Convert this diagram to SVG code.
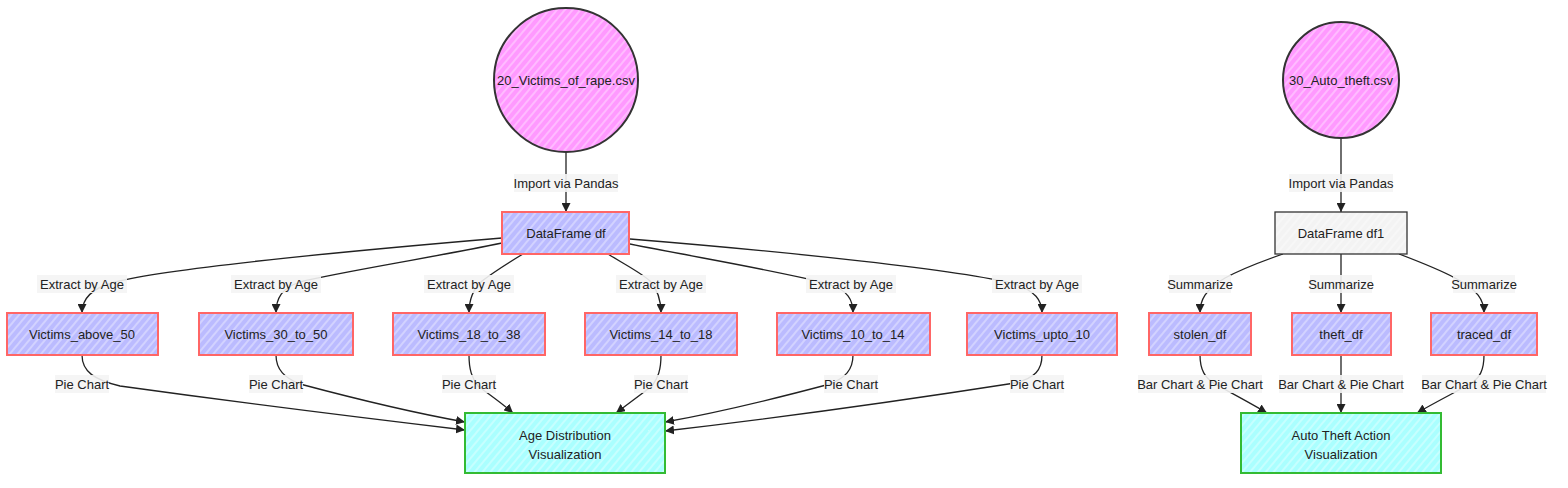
<svg xmlns="http://www.w3.org/2000/svg" width="1568" height="488" viewBox="0 0 1568 488">
<style>
text{font-family:"Liberation Sans","DejaVu Sans",sans-serif;font-size:13px;fill:#222;text-anchor:middle;dominant-baseline:central}
.edge{fill:none;stroke:#222;stroke-width:1.3}
.lbl{fill:#f4f4f4;opacity:0.9}
.df{stroke:#f66;stroke-width:2}
.src{stroke:#333;stroke-width:2}
.viz{stroke:#3b3;stroke-width:2}
.plain{stroke:#333;stroke-width:1.3}
</style>
<defs>
<pattern id="hPurple" width="6" height="6" patternUnits="userSpaceOnUse" patternTransform="rotate(40)"><rect width="6" height="6" fill="#bbf"/><line x1="1" y1="0" x2="1" y2="6" stroke="#fff" stroke-width="0.9" stroke-opacity="0.75"/></pattern>
<pattern id="hPink" width="6" height="6" patternUnits="userSpaceOnUse" patternTransform="rotate(40)"><rect width="6" height="6" fill="#f9f"/><line x1="1" y1="0" x2="1" y2="6" stroke="#fff" stroke-width="0.9" stroke-opacity="0.75"/></pattern>
<pattern id="hCyan" width="6" height="6" patternUnits="userSpaceOnUse" patternTransform="rotate(40)"><rect width="6" height="6" fill="#aff"/><line x1="1" y1="0" x2="1" y2="6" stroke="#fff" stroke-width="0.9" stroke-opacity="0.75"/></pattern>
<pattern id="hGray" width="6" height="6" patternUnits="userSpaceOnUse" patternTransform="rotate(40)"><rect width="6" height="6" fill="#f3f3f3"/><line x1="1" y1="0" x2="1" y2="6" stroke="#fff" stroke-width="0.9" stroke-opacity="0.75"/></pattern>
<marker id="arr" markerUnits="userSpaceOnUse" markerWidth="9" markerHeight="9" refX="9" refY="4.5" orient="auto"><path d="M0,0 L9,4.5 L0,9 z" fill="#222"/></marker>
</defs>
<rect width="1568" height="488" fill="#fff"/>

<g id="connectors">
<path class="edge" d="M566,153 L566,212" marker-end="url(#arr)"/>
<path class="edge" d="M502,238 C360,250 170,268 115,282 C92,288 82,298 82,313" marker-end="url(#arr)"/>
<path class="edge" d="M502,243 C430,258 340,272 300,282 C282,288 276,298 276,313" marker-end="url(#arr)"/>
<path class="edge" d="M523,254 C508,263 494,272 482,281 C472,290 469,300 469,313" marker-end="url(#arr)"/>
<path class="edge" d="M608,254 C622,263 640,272 650,281 C658,290 661,300 661,313" marker-end="url(#arr)"/>
<path class="edge" d="M630,244 C700,258 790,273 828,284 C848,290 853,300 853,313" marker-end="url(#arr)"/>
<path class="edge" d="M630,239 C790,252 960,270 1015,284 C1035,291 1042,300 1042,313" marker-end="url(#arr)"/>
<path class="edge" d="M82,355 C82,372 95,380 120,386 C250,404 380,420 465,430" marker-end="url(#arr)"/>
<path class="edge" d="M276,355 C276,370 285,378 300,384 C360,400 420,414 465,422" marker-end="url(#arr)"/>
<path class="edge" d="M469,355 C469,370 472,378 478,386 C490,395 503,404 513,413" marker-end="url(#arr)"/>
<path class="edge" d="M661,355 C661,370 658,378 652,386 C640,395 628,404 616,413" marker-end="url(#arr)"/>
<path class="edge" d="M853,355 C853,370 845,378 830,384 C770,400 710,414 665,422" marker-end="url(#arr)"/>
<path class="edge" d="M1042,355 C1042,370 1035,378 1015,383 C880,404 760,420 665,431" marker-end="url(#arr)"/>
<path class="edge" d="M1341,139 L1341,212" marker-end="url(#arr)"/>
<path class="edge" d="M1283,254 C1260,262 1240,270 1225,278 C1205,290 1200,300 1200,313" marker-end="url(#arr)"/>
<path class="edge" d="M1341,254 L1341,313" marker-end="url(#arr)"/>
<path class="edge" d="M1399,254 C1420,262 1440,270 1455,278 C1478,290 1484,300 1484,313" marker-end="url(#arr)"/>
<path class="edge" d="M1200,355 C1200,370 1205,378 1215,384 C1235,395 1252,404 1267,413" marker-end="url(#arr)"/>
<path class="edge" d="M1341,355 L1341,413" marker-end="url(#arr)"/>
<path class="edge" d="M1484,355 C1484,370 1480,378 1470,384 C1450,395 1432,404 1417,413" marker-end="url(#arr)"/>
</g>

<g id="edge-labels">
<rect class="lbl" x="514" y="174" width="104" height="18"/><text x="566" y="183">Import via Pandas</text>
<rect class="lbl" x="1289" y="174" width="104" height="18"/><text x="1341" y="183">Import via Pandas</text>
<rect class="lbl" x="37" y="275" width="90" height="18"/><text x="82" y="284">Extract by Age</text>
<rect class="lbl" x="231" y="275" width="90" height="18"/><text x="276" y="284">Extract by Age</text>
<rect class="lbl" x="424" y="275" width="90" height="18"/><text x="469" y="284">Extract by Age</text>
<rect class="lbl" x="616" y="275" width="90" height="18"/><text x="661" y="284">Extract by Age</text>
<rect class="lbl" x="806" y="275" width="90" height="18"/><text x="851" y="284">Extract by Age</text>
<rect class="lbl" x="992" y="275" width="90" height="18"/><text x="1037" y="284">Extract by Age</text>
<rect class="lbl" x="1169" y="275" width="62" height="18"/><text x="1200" y="284">Summarize</text>
<rect class="lbl" x="1310" y="275" width="62" height="18"/><text x="1341" y="284">Summarize</text>
<rect class="lbl" x="1453" y="275" width="62" height="18"/><text x="1484" y="284">Summarize</text>
<rect class="lbl" x="55" y="375" width="54" height="18"/><text x="82" y="384">Pie Chart</text>
<rect class="lbl" x="249" y="375" width="54" height="18"/><text x="276" y="384">Pie Chart</text>
<rect class="lbl" x="442" y="375" width="54" height="18"/><text x="469" y="384">Pie Chart</text>
<rect class="lbl" x="634" y="375" width="54" height="18"/><text x="661" y="384">Pie Chart</text>
<rect class="lbl" x="824" y="375" width="54" height="18"/><text x="851" y="384">Pie Chart</text>
<rect class="lbl" x="1010" y="375" width="54" height="18"/><text x="1037" y="384">Pie Chart</text>
<rect class="lbl" x="1138" y="375" width="124" height="18"/><text x="1200" y="384">Bar Chart &amp; Pie Chart</text>
<rect class="lbl" x="1279" y="375" width="124" height="18"/><text x="1341" y="384">Bar Chart &amp; Pie Chart</text>
<rect class="lbl" x="1422" y="375" width="124" height="18"/><text x="1484" y="384">Bar Chart &amp; Pie Chart</text>
</g>

<g id="n-rape-csv"><circle class="src" cx="566" cy="80" r="72" fill="url(#hPink)"/><text x="566" y="80">20_Victims_of_rape.csv</text></g>
<g id="n-auto-csv"><circle class="src" cx="1341" cy="80" r="58" fill="url(#hPink)"/><text x="1341" y="80">30_Auto_theft.csv</text></g>
<g id="n-df"><rect class="df" x="502" y="212" width="127" height="42" fill="url(#hPurple)"/><text x="566" y="233">DataFrame df</text></g>
<g id="n-df1"><rect class="plain" x="1275" y="212" width="132" height="42" fill="url(#hGray)"/><text x="1341" y="233">DataFrame df1</text></g>
<g id="n-above50"><rect class="df" x="7" y="313" width="151" height="42" fill="url(#hPurple)"/><text x="82" y="334">Victims_above_50</text></g>
<g id="n-30to50"><rect class="df" x="199" y="313" width="154" height="42" fill="url(#hPurple)"/><text x="276" y="334">Victims_30_to_50</text></g>
<g id="n-18to38"><rect class="df" x="393" y="313" width="152" height="42" fill="url(#hPurple)"/><text x="469" y="334">Victims_18_to_38</text></g>
<g id="n-14to18"><rect class="df" x="585" y="313" width="152" height="42" fill="url(#hPurple)"/><text x="661" y="334">Victims_14_to_18</text></g>
<g id="n-10to14"><rect class="df" x="777" y="313" width="153" height="42" fill="url(#hPurple)"/><text x="853" y="334">Victims_10_to_14</text></g>
<g id="n-upto10"><rect class="df" x="967" y="313" width="150" height="42" fill="url(#hPurple)"/><text x="1042" y="334">Victims_upto_10</text></g>
<g id="n-stolen"><rect class="df" x="1149" y="313" width="102" height="42" fill="url(#hPurple)"/><text x="1200" y="334">stolen_df</text></g>
<g id="n-theft"><rect class="df" x="1292" y="313" width="99" height="42" fill="url(#hPurple)"/><text x="1341" y="334">theft_df</text></g>
<g id="n-traced"><rect class="df" x="1431" y="313" width="106" height="42" fill="url(#hPurple)"/><text x="1484" y="334">traced_df</text></g>
<g id="n-agedist"><rect class="viz" x="465" y="413" width="200" height="60" fill="url(#hCyan)"/><text x="565" y="435">Age Distribution</text><text x="565" y="454">Visualization</text></g>
<g id="n-autoviz"><rect class="viz" x="1241" y="413" width="200" height="60" fill="url(#hCyan)"/><text x="1341" y="435">Auto Theft Action</text><text x="1341" y="454">Visualization</text></g>
</svg>
